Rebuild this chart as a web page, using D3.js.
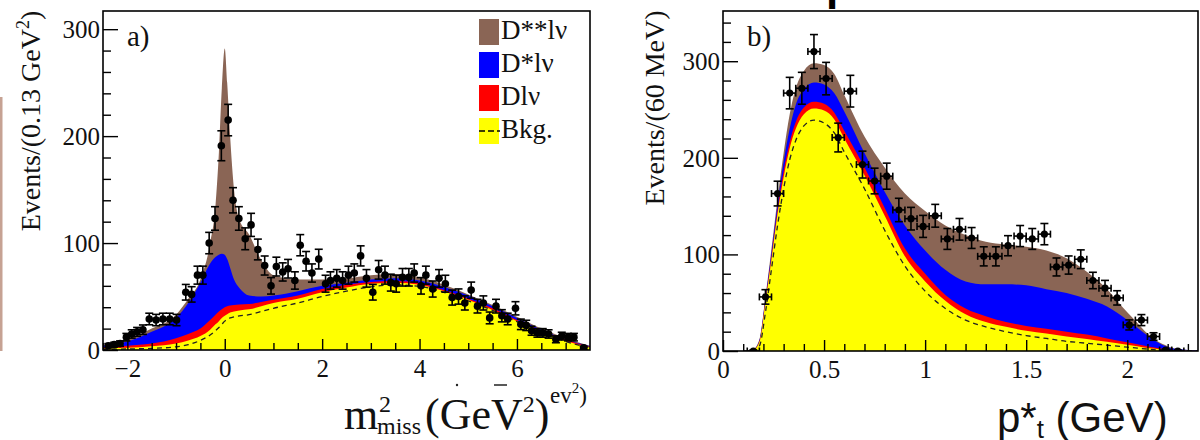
<!DOCTYPE html>
<html>
<head>
<meta charset="utf-8">
<script src="https://cdn.jsdelivr.net/npm/d3@7"></script>
<style>
  body { margin: 0; background: #fff; }
  svg { display: block; }
  .tick text { font-family: 'Liberation Serif', 'Times New Roman', serif; font-size: 25px; }
</style>
</head>
<body>
<div id="chart"></div>
<script>
// ---------------- panel a) : m2 miss ----------------
const aCurveX = [-2.5, -2.0, -1.5, -1.0, -0.75, -0.5, -0.3, -0.19, -0.12, -0.06, 0.0, 0.05, 0.11, 0.19, 0.3, 0.5, 0.75, 1.0, 1.5, 2.0, 2.5, 3.0, 3.5, 4.0, 4.5, 5.0, 5.5, 6.0, 6.5, 7.0, 7.5];
const aDssTop = [5, 10, 20, 33, 48, 66, 100, 135, 185, 245, 282, 250, 200, 150, 122, 108, 84, 70, 66, 66, 67, 70, 71, 68, 61, 52, 42, 31, 20, 11, 4];
const aDsTop  = [4, 8, 17, 30, 44, 63, 81, 87, 89, 90, 89, 85, 77, 66, 58, 51, 50, 51, 55, 60, 63, 66, 67, 65, 59, 51, 41, 30, 19, 10, 3.5];
const aDTop   = [2.5, 4, 6, 11, 15, 20, 28, 33, 36, 38, 40, 41, 41.5, 42, 42.5, 43, 45, 47, 51, 57, 61, 63.5, 64.5, 62.5, 56, 48, 39, 28, 18, 9.5, 3];
const aBkgTop = [1.5, 2, 3.5, 6, 9, 13, 19, 24, 27, 30, 32, 33.5, 35, 36, 37, 38, 41, 44, 48, 54, 58.5, 62, 63, 61, 55, 47, 37.5, 27, 17, 8.5, 2.5];
const aBkgLine = [0.5, 1, 1.5, 3, 5, 9, 14, 18, 21, 24, 27, 28.5, 30, 31, 32, 33, 36, 39, 44, 50, 55, 59, 61, 59.5, 54, 46, 37, 26.5, 16.5, 8, 2];

const aPtsX = [-2.39, -2.27, -2.15, -2.02, -1.91, -1.80, -1.68, -1.55, -1.41, -1.27, -1.13, -0.99, -0.80, -0.68, -0.56, -0.45, -0.32, -0.20, -0.07, 0.07, 0.17, 0.29, 0.42, 0.54, 0.68, 0.82, 0.95, 1.06, 1.19, 1.30, 1.44, 1.55, 1.67, 1.79, 1.93, 2.07, 2.17, 2.30, 2.42, 2.54, 2.66, 2.79, 2.91, 3.04, 3.16, 3.29, 3.41, 3.52, 3.65, 3.78, 3.89, 4.03, 4.13, 4.27, 4.40, 4.53, 4.67, 4.80, 4.93, 5.06, 5.19, 5.31, 5.44, 5.57, 5.69, 5.81, 5.97, 6.08, 6.19, 6.30, 6.42, 6.53, 6.65, 6.80, 6.92, 7.05, 7.17, 7.37];
const aPtsY = [4, 5, 6, 12, 15, 17, 19, 29, 28, 29, 29, 28, 54, 52, 70, 70, 100, 123, 191, 215, 140, 123, 104, 117, 94, 79, 60, 78, 73, 76, 65, 98, 83, 72, 85, 62, 65, 67, 65, 70, 72, 88, 67, 54, 75, 70, 63, 62, 68, 68, 72, 60, 70, 57, 67, 62, 49, 50, 44, 56, 41, 44, 30, 41, 32, 29, 39, 24, 23, 18, 16, 16, 15, 10, 13, 12, 12, 2];
const aPtsErr = [2, 2.2, 2.5, 3.5, 3.9, 4.1, 4.4, 5.4, 5.3, 5.4, 5.4, 5.3, 7.3, 7.2, 8.4, 8.4, 10, 11, 14, 14.7, 11.8, 11, 10.2, 10.8, 9.7, 8.9, 7.7, 8.8, 8.5, 8.7, 8.1, 9.9, 9.1, 8.5, 9.2, 7.9, 8.1, 8.2, 8.1, 8.4, 8.5, 9.4, 8.2, 7.3, 8.7, 8.4, 7.9, 7.9, 8.2, 8.2, 8.5, 7.7, 8.4, 7.5, 8.2, 7.9, 7, 7.1, 6.6, 7.5, 6.4, 6.6, 5.5, 6.4, 5.7, 5.4, 6.2, 4.9, 4.8, 4.2, 4, 4, 3.9, 3.2, 3.6, 3.5, 3.5, 1.4];

const aMajorX = [-2, 0, 2, 4, 6];
const aMinorX = [-2.5, -1.5, -1, -0.5, 0.5, 1, 1.5, 2.5, 3, 3.5, 4.5, 5, 5.5, 6.5, 7];
const aMajorY = [0, 100, 200, 300];
const aMinorY = [20, 40, 60, 80, 120, 140, 160, 180, 220, 240, 260, 280];

// ---------------- panel b) : p*_t ----------------
const bCurveX = [0.10, 0.15, 0.18, 0.21, 0.24, 0.27, 0.30, 0.33, 0.36, 0.40, 0.45, 0.50, 0.55, 0.60, 0.70, 0.80, 0.90, 1.00, 1.10, 1.20, 1.30, 1.40, 1.50, 1.60, 1.70, 1.80, 1.90, 2.00, 2.05, 2.10, 2.15, 2.20, 2.25, 2.35];
const bDssTop = [0, 2, 12, 56, 106, 158, 205, 245, 272, 290, 298, 296, 287, 265, 222, 190, 163, 145, 130, 120, 113, 110, 108, 104, 96, 82, 64, 40, 29, 18, 10, 5, 2, 0.5];
const bDsTop  = [0, 1.5, 11, 54, 102, 152, 196, 230, 255, 271, 278, 276, 267, 248, 205, 165, 130, 104, 84, 72, 69, 69, 68, 64, 60, 54, 46, 32, 24, 16, 9, 4, 2, 0.5];
const bDTop   = [0, 1, 10, 52, 98, 146, 186, 216, 237, 252, 258, 256, 247, 228, 190, 148, 106, 80, 58, 44, 36, 30, 26, 23, 20, 17, 13, 9, 7, 5, 3, 1.5, 0.8, 0];
const bBkgTop = [0, 1, 9, 50, 95, 142, 180, 210, 230, 245, 251, 249, 240, 220, 182, 140, 98, 72, 52, 38, 30, 25, 21, 18, 15, 12.5, 9.5, 6.5, 5, 3, 2, 1, 0.5, 0];
const bBkgLine = [0, 0, 5, 40, 85, 130, 168, 198, 218, 233, 239, 236, 226, 206, 168, 125, 88, 62, 44, 32, 25, 20, 16, 13, 10, 8, 6, 4, 3, 2, 1, 0.5, 0, 0];

const bPtsX = [0.15, 0.21, 0.27, 0.33, 0.39, 0.45, 0.51, 0.57, 0.63, 0.69, 0.75, 0.81, 0.87, 0.93, 0.99, 1.05, 1.11, 1.17, 1.23, 1.29, 1.35, 1.41, 1.47, 1.53, 1.59, 1.65, 1.71, 1.77, 1.83, 1.89, 1.95, 2.01, 2.07, 2.13, 2.19, 2.25];
const bPtsY = [0, 56, 163, 267, 272, 310, 282, 221, 269, 193, 176, 181, 146, 137, 129, 140, 116, 126, 117, 98, 98, 109, 119, 116, 121, 87, 89, 95, 73, 65, 55, 27, 32, 15, 1, 0];
const bPtsErr = [1, 7.5, 12.8, 16.3, 16.5, 17.6, 16.8, 14.9, 16.4, 13.9, 13.3, 13.5, 12.1, 11.7, 11.4, 11.8, 10.8, 11.2, 10.8, 9.9, 9.9, 10.4, 10.9, 10.8, 11, 9.3, 9.4, 9.7, 8.5, 8.1, 7.4, 5.2, 5.7, 3.9, 1, 1];
const bHalfBin = 0.03;

const bMajorX = [0, 0.5, 1, 1.5, 2];
const bMinorX = [0.1, 0.2, 0.3, 0.4, 0.6, 0.7, 0.8, 0.9, 1.1, 1.2, 1.3, 1.4, 1.6, 1.7, 1.8, 1.9, 2.1, 2.2, 2.3];
const bMajorY = [0, 100, 200, 300];
const bMinorY = [20, 40, 60, 80, 120, 140, 160, 180, 220, 240, 260, 280, 320, 340];

const legendNames = ["D**lν", "D*lν", "Dlν", "Bkg."];
const colors = { dss: "#8a6555", ds: "#0000ff", d: "#ff0000", bkg: "#ffff00" };

const SERIF = "'Liberation Serif', 'Times New Roman', serif";
const SANS = "'Liberation Sans', Arial, sans-serif";

let svg = d3.select("#chart").append("svg")
    .attr("width", 1200)
    .attr("height", 440);

//=================================================
// stray fragments from the original figure
//=================================================
svg.append("rect")
    .attr("x", 0).attr("y", 97).attr("width", 2.5).attr("height", 254)
    .attr("fill", "#c6a293");

svg.append("text")
    .attr("x", 826).attr("y", 0)
    .attr("font-family", SANS).attr("font-weight", "bold").attr("font-size", 44)
    .attr("fill", "#000")
    .text("p");

//=================================================
// generic panel drawing
//=================================================
function drawPanel(cfg) {
    let g = svg.append("g");
    let sx = d3.scaleLinear().domain(cfg.xDomain).range([cfg.left, cfg.right]);
    let sy = d3.scaleLinear().domain(cfg.yDomain).range([cfg.bottom, cfg.top]);

    let clipId = "clip-" + cfg.id;
    g.append("defs").append("clipPath").attr("id", clipId)
        .append("rect")
        .attr("x", cfg.left).attr("y", cfg.top)
        .attr("width", cfg.right - cfg.left).attr("height", cfg.bottom - cfg.top);

    let plot = g.append("g").attr("clip-path", "url(#" + clipId + ")");

    // stacked components, drawn from the top one down
    let layers = [
        { top: cfg.dss, color: colors.dss },
        { top: cfg.ds, color: colors.ds },
        { top: cfg.d, color: colors.d },
        { top: cfg.bkg, color: colors.bkg }
    ];
    layers.forEach(function (layer) {
        let rows = cfg.curveX.map(function (x, i) { return { x: x, y: layer.top[i] }; });
        let area = d3.area()
            .x(function (d) { return sx(d.x); })
            .y0(sy(0))
            .y1(function (d) { return sy(d.y); })
            .curve(d3.curveMonotoneX);
        plot.append("path").datum(rows)
            .attr("d", area)
            .attr("fill", layer.color);
    });

    let bkgRows = cfg.curveX.map(function (x, i) { return { x: x, y: cfg.bkgLine[i] }; });
    plot.append("path").datum(bkgRows)
        .attr("d", d3.line().x(function (d) { return sx(d.x); }).y(function (d) { return sy(d.y); }).curve(d3.curveMonotoneX))
        .attr("fill", "none")
        .attr("stroke", "#222")
        .attr("stroke-width", 1.3)
        .attr("stroke-dasharray", "5,4");

    // data points with error bars
    let pts = cfg.ptsX.map(function (x, i) { return { x: x, y: cfg.ptsY[i], e: cfg.ptsErr[i] }; });
    let pg = plot.append("g").attr("stroke", "#000").attr("stroke-width", 1.6);
    pts.forEach(function (p) {
        let cx = sx(p.x), y0 = sy(p.y - p.e), y1 = sy(p.y + p.e);
        pg.append("line").attr("x1", cx).attr("x2", cx).attr("y1", y0).attr("y2", y1);
        pg.append("line").attr("x1", cx - 4).attr("x2", cx + 4).attr("y1", y0).attr("y2", y0);
        pg.append("line").attr("x1", cx - 4).attr("x2", cx + 4).attr("y1", y1).attr("y2", y1);
        if (cfg.halfBin) {
            let xa = sx(p.x - cfg.halfBin), xb = sx(p.x + cfg.halfBin), cy = sy(p.y);
            pg.append("line").attr("x1", xa).attr("x2", xb).attr("y1", cy).attr("y2", cy);
            pg.append("line").attr("x1", xa).attr("x2", xa).attr("y1", cy - 3.5).attr("y2", cy + 3.5);
            pg.append("line").attr("x1", xb).attr("x2", xb).attr("y1", cy - 3.5).attr("y2", cy + 3.5);
        }
        pg.append("circle").attr("cx", cx).attr("cy", sy(p.y)).attr("r", cfg.r)
            .attr("fill", "#000").attr("stroke", "none");
    });

    //=================================================
    // axes (ticks point inward)
    //=================================================
    let xMinor = g.append("g").attr("transform", "translate(0," + cfg.bottom + ")")
        .call(d3.axisBottom(sx).tickValues(cfg.minorX).tickSize(-7).tickFormat(""));
    let xMajor = g.append("g").attr("transform", "translate(0," + cfg.bottom + ")")
        .call(d3.axisBottom(sx).tickValues(cfg.majorX).tickSize(-11).tickFormat(d3.format("")));
    let yMinor = g.append("g").attr("transform", "translate(" + cfg.left + ",0)")
        .call(d3.axisLeft(sy).tickValues(cfg.minorY).tickSize(-8).tickFormat(""));
    let yMajor = g.append("g").attr("transform", "translate(" + cfg.left + ",0)")
        .call(d3.axisLeft(sy).tickValues(cfg.majorY).tickSize(-15).tickFormat(d3.format("")));

    [xMinor, xMajor, yMinor, yMajor].forEach(function (ax) {
        ax.select(".domain").remove();
        ax.attr("font-family", SERIF).attr("font-size", 25);
        ax.selectAll(".tick line").attr("stroke", "#000").attr("stroke-width", 1.4);
    });
    xMajor.selectAll("text").attr("y", 6).attr("dy", "0.85em").attr("fill", "#111");
    yMajor.selectAll("text").attr("x", -3).attr("dy", "0.33em").attr("fill", "#111");

    g.append("rect")
        .attr("x", cfg.left).attr("y", cfg.top)
        .attr("width", cfg.right - cfg.left).attr("height", cfg.bottom - cfg.top)
        .attr("fill", "none").attr("stroke", "#000").attr("stroke-width", 1.6);

    g.append("text")
        .attr("x", cfg.left + cfg.tagDx).attr("y", cfg.top + 35)
        .style("font-family", SERIF).attr("font-size", 29).attr("fill", "#111")
        .text(cfg.tag);

    g.append("text")
        .attr("transform", "translate(" + cfg.yTitleX + "," + cfg.yTitleY + ") rotate(-90)")
        .attr("text-anchor", "middle")
        .style("font-family", SERIF).attr("font-size", 28).attr("fill", "#111")
        .call(cfg.yTitle);

    return { g: g, sx: sx, sy: sy };
}

//=================================================
// panel a
//=================================================
let panelA = drawPanel({
    id: "a", left: 103, right: 590, top: 11, bottom: 350,
    xDomain: [-2.5, 7.5], yDomain: [0, 317],
    curveX: aCurveX, dss: aDssTop, ds: aDsTop, d: aDTop, bkg: aBkgTop, bkgLine: aBkgLine,
    ptsX: aPtsX, ptsY: aPtsY, ptsErr: aPtsErr, halfBin: 0, r: 3.8,
    majorX: aMajorX, minorX: aMinorX, majorY: aMajorY, minorY: aMinorY,
    tag: "a)", tagDx: 24,
    yTitleX: 40, yTitleY: 121,
    yTitle: function (t) {
        t.append("tspan").text("Events/(0.13 GeV");
        t.append("tspan").attr("font-size", 18).attr("dy", -11).text("2");
        t.append("tspan").attr("dy", 11).text(")");
    }
});

// legend
let legend = panelA.g.append("g").style("font-family", SERIF).attr("font-size", 27).attr("fill", "#111");
let legendColors = [colors.dss, colors.ds, colors.d, colors.bkg];
legendNames.forEach(function (name, i) {
    let y = 19 + i * 33;
    legend.append("rect").attr("x", 479).attr("y", y).attr("width", 20).attr("height", 26)
        .attr("fill", legendColors[i]);
    legend.append("text").attr("x", 501).attr("y", y + 20).text(name);
    if (i === 3) {
        legend.append("line").attr("x1", 479).attr("x2", 500).attr("y1", y + 13).attr("y2", y + 13)
            .attr("stroke", "#000").attr("stroke-width", 1.5).attr("stroke-dasharray", "6,3");
    }
});

// x title a
let xtA = svg.append("g").style("font-family", SERIF).attr("fill", "#111");
xtA.append("text").attr("x", 344).attr("y", 429).attr("font-size", 44).text("m");
xtA.append("text").attr("x", 379).attr("y", 412).attr("font-size", 24).text("2");
xtA.append("text").attr("x", 377).attr("y", 434).attr("font-size", 24).text("miss");
let gev = xtA.append("text").attr("x", 425).attr("y", 429).attr("font-size", 44);
gev.append("tspan").text("(GeV");
gev.append("tspan").attr("font-size", 24).attr("dy", -17).text("2");
gev.append("tspan").attr("dy", 17).text(")");
// cut-off piece of another label, sitting above the right end
let frag = xtA.append("text").attr("x", 550).attr("y", 403).attr("font-size", 23);
frag.append("tspan").text("ev");
frag.append("tspan").attr("font-size", 15).attr("dy", -10).text("2");
frag.append("tspan").attr("dy", 10).text(")");
svg.append("line").attr("x1", 494).attr("x2", 507).attr("y1", 385).attr("y2", 385)
    .attr("stroke", "#222").attr("stroke-width", 1.5);
svg.append("circle").attr("cx", 457).attr("cy", 385).attr("r", 1.2).attr("fill", "#222");

//=================================================
// panel b
//=================================================
drawPanel({
    id: "b", left: 723, right: 1198, top: 11, bottom: 351,
    xDomain: [0, 2.35], yDomain: [0, 352],
    curveX: bCurveX, dss: bDssTop, ds: bDsTop, d: bDTop, bkg: bBkgTop, bkgLine: bBkgLine,
    ptsX: bPtsX, ptsY: bPtsY, ptsErr: bPtsErr, halfBin: bHalfBin, r: 3.6,
    majorX: bMajorX, minorX: bMinorX, majorY: bMajorY, minorY: bMinorY,
    tag: "b)", tagDx: 24,
    yTitleX: 664, yTitleY: 108,
    yTitle: function (t) { t.text("Events/(60 MeV)"); }
});

let xtB = svg.append("text").attr("x", 997).attr("y", 432)
    .style("font-family", SANS).attr("font-size", 42).attr("fill", "#111");
xtB.append("tspan").text("p*");
xtB.append("tspan").attr("font-size", 26).attr("dy", 6).text("t");
xtB.append("tspan").attr("dy", -6).text(" (GeV)");
</script>
</body>
</html>
